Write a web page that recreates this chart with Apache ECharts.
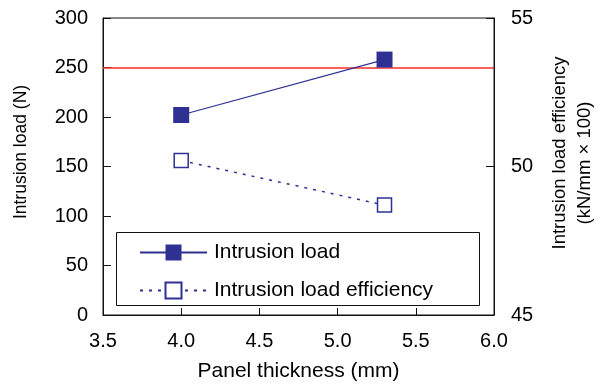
<!DOCTYPE html>
<html>
<head>
<meta charset="utf-8">
<script src="https://cdn.jsdelivr.net/npm/echarts@6/dist/echarts.min.js"></script>
<style>
html,body{margin:0;padding:0;background:#fff;}
#chart{width:602px;height:387px;}
</style>
</head>
<body>
<div id="chart"></div>
<script>
const thickness = [4.0, 5.3];
const intrusionLoad = [202, 258];
const efficiency = [50.2, 48.7];
const referenceLoad = 250;
const seriesNames = ['Intrusion load', 'Intrusion load efficiency'];
const xAxisName = 'Panel thickness (mm)';
const yLeftName = 'Intrusion load (N)';
const yRightName1 = 'Intrusion load efficiency';
const yRightName2 = '(kN/mm \u00d7 100)';

const FONT = "'Liberation Sans', Arial, Helvetica, sans-serif";
const NAVY = '#2e3192';
const RED = '#ff2a2a';

const chart = echarts.init(document.getElementById('chart'), null, {renderer: 'canvas'});

const axisLine = {show: true, lineStyle: {color: '#111', width: 1}};
const option = {
  animation: false,
  backgroundColor: '#fff',
  grid: {left: 103, right: 108, top: 18, bottom: 69, show: true, borderColor: '#111', borderWidth: 1, backgroundColor: 'transparent'},
  xAxis: {
    type: 'value', min: 3.5, max: 6.0, interval: 0.5,
    axisLine: axisLine,
    axisTick: {show: true, inside: true, length: 7, lineStyle: {color: '#111'}},
    splitLine: {show: false},
    axisLabel: {color: '#000', fontSize: 20, fontFamily: FONT, margin: 16, formatter: v => v.toFixed(1)},
    name: xAxisName, nameLocation: 'middle', nameGap: 46,
    nameTextStyle: {color: '#000', fontSize: 21, fontFamily: FONT}
  },
  yAxis: [
    {
      type: 'value', min: 0, max: 300, interval: 50, position: 'left',
      axisLine: axisLine,
      axisTick: {show: true, inside: true, length: 8, lineStyle: {color: '#111'}},
      splitLine: {show: false},
      axisLabel: {color: '#000', fontSize: 20, fontFamily: FONT, margin: 15}
    },
    {
      type: 'value', min: 45, max: 55, interval: 5, position: 'right',
      axisLine: axisLine,
      axisTick: {show: true, inside: true, length: 8, lineStyle: {color: '#111'}},
      splitLine: {show: false},
      axisLabel: {color: '#000', fontSize: 20, fontFamily: FONT, margin: 17}
    }
  ],
  legend: {
    orient: 'vertical', left: 116, top: 232,
    padding: [10, 20, 8, 23],
    itemWidth: 67, itemHeight: 20, itemGap: 17,
    textStyle: {color: '#000', fontSize: 21, lineHeight: 20, fontFamily: FONT, padding: [0, 0, 0, 2]},
    data: seriesNames,
    z: 10
  },
  graphic: [
    {type: 'rect', z: 5, silent: true, shape: {x: 116.5, y: 232.5, width: 363, height: 73}, style: {fill: '#fff', stroke: '#111', lineWidth: 1}},
    {type: 'text', x: 21, y: 152, rotation: Math.PI / 2, silent: true,
     style: {text: yLeftName, fontSize: 17.5, fontFamily: FONT, fill: '#000', align: 'center', verticalAlign: 'middle'}},
    {type: 'text', x: 560, y: 153, rotation: Math.PI / 2, silent: true,
     style: {text: yRightName1, fontSize: 18.5, fontFamily: FONT, fill: '#000', align: 'center', verticalAlign: 'middle'}},
    {type: 'text', x: 585, y: 163, rotation: Math.PI / 2, silent: true,
     style: {text: yRightName2, fontSize: 18.5, fontFamily: FONT, fill: '#000', align: 'center', verticalAlign: 'middle'}}
  ],
  series: [
    {
      name: seriesNames[0], type: 'line', yAxisIndex: 0,
      data: thickness.map((x, i) => [x, intrusionLoad[i]]),
      symbol: 'rect', symbolSize: 16,
      lineStyle: {color: NAVY, width: 1.2, type: 'solid'},
      itemStyle: {color: NAVY},
      z: 3,
      markLine: {
        silent: true, symbol: 'none', label: {show: false},
        lineStyle: {color: RED, width: 1.5, type: 'solid', opacity: 1},
        emphasis: {disabled: true},
        data: [{yAxis: referenceLoad}],
        z: 2
      }
    },
    {
      name: seriesNames[1], type: 'line', yAxisIndex: 1,
      data: thickness.map((x, i) => [x, efficiency[i]]),
      symbol: 'rect', symbolSize: 14,
      lineStyle: {color: NAVY, width: 1.5, type: [3, 6]},
      itemStyle: {color: '#fff', borderColor: NAVY, borderWidth: 1.5},
      z: 3
    }
  ]
};
chart.setOption(option);
</script>
</body>
</html>
